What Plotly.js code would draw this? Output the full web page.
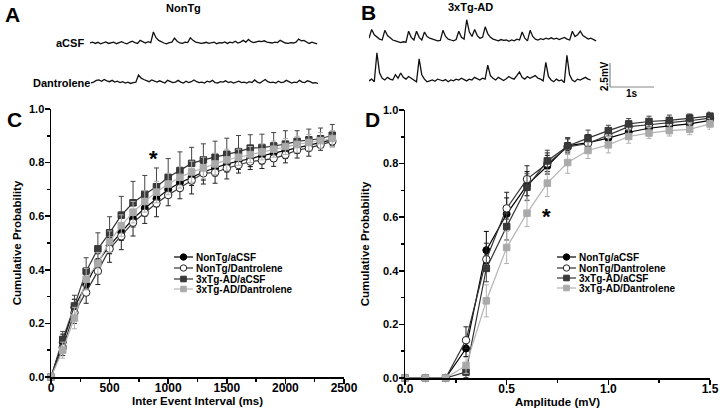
<!DOCTYPE html>
<html><head><meta charset="utf-8">
<script src="https://cdn.plot.ly/plotly-3.0.1.min.js"></script>
<style>html,body{margin:0;padding:0;background:#fff}#chart{width:720px;height:412px}</style>
</head><body><div id="chart"></div>
<script>
// ---------------- DATA ----------------
const seriesNames = ['NonTg/aCSF', 'NonTg/Dantrolene', '3xTg-AD/aCSF', '3xTg-AD/Dantrolene'];

// Panel C: inter event interval (ms) vs cumulative probability
const intervalMs = [0,100,200,300,400,500,600,700,800,900,1000,1100,1200,1300,1400,1500,1600,1700,1800,1900,2000,2100,2200,2300,2400];
const cNonTgACSF = [0,0.13,0.26,0.345,0.43,0.49,0.54,0.59,0.63,0.665,0.70,0.725,0.745,0.765,0.78,0.795,0.805,0.815,0.825,0.835,0.845,0.855,0.865,0.875,0.885];
const cNonTgDant = [0,0.11,0.24,0.315,0.395,0.478,0.525,0.576,0.613,0.648,0.679,0.705,0.733,0.76,0.763,0.779,0.791,0.804,0.808,0.816,0.829,0.847,0.854,0.866,0.879];
const c3xTgACSF = [0,0.14,0.265,0.395,0.478,0.538,0.604,0.65,0.682,0.71,0.745,0.77,0.797,0.81,0.82,0.831,0.841,0.854,0.856,0.862,0.869,0.879,0.885,0.889,0.902];
const c3xTgDant = [0,0.10,0.22,0.365,0.425,0.505,0.565,0.615,0.655,0.69,0.72,0.745,0.765,0.78,0.795,0.81,0.82,0.83,0.84,0.85,0.86,0.868,0.875,0.882,0.89];
const cNonTgACSFErrUp = [0,0.03,0.03,0.03,0.03,0.03,0.03,0.03,0.03,0.03,0.03,0.03,0.03,0.03,0.03,0.03,0.03,0.03,0.03,0.03,0.03,0.02,0.02,0.02,0.02];
const cNonTgACSFErrDn = [0,0.03,0.03,0.03,0.03,0.03,0.03,0.03,0.03,0.03,0.03,0.03,0.03,0.03,0.03,0.03,0.03,0.03,0.03,0.03,0.03,0.02,0.02,0.02,0.02];
const cNonTgDantErrUp = [0,0,0,0,0,0,0,0,0,0,0,0,0,0,0,0,0,0,0,0,0,0,0,0,0];
const cNonTgDantErrDn = [0,0.03,0.04,0.04,0.05,0.05,0.05,0.05,0.04,0.05,0.04,0.04,0.05,0.04,0.04,0.04,0.03,0.03,0.03,0.03,0.03,0.03,0.03,0.02,0.02];
const c3xTgACSFErrUp = [0,0.03,0.04,0.05,0.06,0.06,0.07,0.08,0.07,0.07,0.07,0.07,0.06,0.06,0.06,0.06,0.06,0.05,0.05,0.05,0.05,0.04,0.04,0.04,0.04];
const c3xTgACSFErrDn = [0,0,0,0,0,0,0,0,0,0,0,0,0,0,0,0,0,0,0,0,0,0,0,0,0];
const c3xTgDantErrUp = [0,0.03,0.04,0.04,0.04,0.04,0.04,0.04,0.04,0.04,0.04,0.04,0.04,0.04,0.04,0.04,0.03,0.03,0.03,0.03,0.03,0.03,0.03,0.03,0.03];
const c3xTgDantErrDn = [0,0.03,0.04,0.04,0.04,0.04,0.04,0.04,0.04,0.04,0.04,0.04,0.04,0.04,0.04,0.04,0.03,0.03,0.03,0.03,0.03,0.03,0.03,0.03,0.03];

// Panel D: amplitude (mV) vs cumulative probability
const amplitudeMv = [0,0.1,0.2,0.3,0.4,0.5,0.6,0.7,0.8,0.9,1.0,1.1,1.2,1.3,1.4,1.5];
const dNonTgACSF = [0,0,0,0.11,0.477,0.612,0.72,0.791,0.866,0.878,0.895,0.917,0.932,0.941,0.948,0.961];
const dNonTgDant = [0,0,0,0.141,0.443,0.633,0.742,0.80,0.862,0.875,0.905,0.938,0.945,0.952,0.96,0.97];
const d3xTgACSF = [0,0,0,0.022,0.409,0.565,0.712,0.81,0.866,0.895,0.923,0.948,0.957,0.961,0.97,0.977];
const d3xTgDant = [0,0,0,0.047,0.288,0.487,0.615,0.727,0.804,0.849,0.87,0.901,0.914,0.923,0.928,0.948];
const dNonTgACSFErrUp = [0,0,0,0.04,0.07,0.06,0.05,0.04,0.03,0.03,0.02,0.02,0.02,0.02,0.02,0.015];
const dNonTgACSFErrDn = [0,0,0,0.03,0.05,0.04,0.04,0.03,0.02,0.02,0.02,0.02,0.02,0.02,0.02,0.015];
const dNonTgDantErrUp = [0,0,0,0.05,0.06,0.06,0.05,0.04,0.03,0.03,0.02,0.02,0.02,0.02,0.02,0.015];
const dNonTgDantErrDn = [0,0,0,0.03,0.04,0.04,0.03,0.03,0.02,0.02,0.02,0.02,0.02,0.02,0.02,0.015];
const d3xTgACSFErrUp = [0,0,0,0.02,0.05,0.05,0.05,0.04,0.03,0.03,0.02,0.02,0.02,0.02,0.015,0.015];
const d3xTgACSFErrDn = [0,0,0,0.02,0.05,0.05,0.05,0.04,0.03,0.03,0.02,0.02,0.02,0.02,0.015,0.015];
const d3xTgDantErrUp = [0,0,0,0.03,0.06,0.06,0.05,0.05,0.04,0.03,0.03,0.025,0.02,0.02,0.02,0.02];
const d3xTgDantErrDn = [0,0,0,0.03,0.06,0.06,0.05,0.05,0.04,0.03,0.03,0.025,0.02,0.02,0.02,0.02];

// Panels A/B: example recordings (mV), sampled every 0.06 s
const sampleDt = 0.06;
const traceNonTgACSF = [0,0.1,-0.05,0.08,-0.1,0.05,0.12,-0.05,0.02,0.1,
 -0.08,0.05,0.15,0,-0.1,0.08,0.2,0.05,-0.05,0.3,
 0.1,0.0,0.15,0.05,1.25,0.6,0.3,0.1,0.0,-0.1,
 0.05,0.1,0.55,0.2,0.0,-0.05,0.1,0.05,0.6,0.3,
 0.1,0.05,-0.05,0.0,0.08,-0.05,0.05,0.1,-0.08,0.05,
 0.0,0.12,-0.05,0.1,0.02,0.2,0.0,0.1,0.3,0.1,
 0.4,0.15,0.05,0.1,0.2,0.15,0.25,0.1,0.05,0.0,
 0.1,0.05,0.3,0.15,0.0,-0.05,0.05,0.0,0.1,0.45,
 0.25,0.3,0.1,-0.05,0.1,0.0,-0.1];
const traceNonTgDant = [0,0.1,0.3,0.35,0.2,0.4,0.25,0.15,0.3,0.1,
 0.2,0.05,0.15,0.0,0.1,-0.05,0.05,0.1,0.9,0.55,
 0.4,0.3,0.15,0.35,0.2,0.1,0.25,0.1,0.0,0.3,
 0.15,0.05,0.1,0.3,0.1,0.0,0.2,0.05,0.15,0.35,
 0.15,0.05,0.1,0.0,0.2,0.1,0.3,0.05,0.0,0.15,
 0.1,0.25,0.05,0.15,0.0,0.1,0.2,0.05,0.1,0.0,
 0.15,0.05,0.35,0.1,0.0,0.2,0.4,0.15,0.05,0.1,
 0.0,0.2,0.05,0.1,0.3,0.15,0.0,0.1,0.05,0.3,
 0.1,0.05,0.25,0.15,0.0,0.05,-0.05];
const trace3xTgACSF = [0.2,1.2,0.6,0.3,0.1,0.0,1.1,0.5,0.2,0.0,
 -0.1,-0.2,-0.3,-0.2,-0.25,1.0,0.3,0.0,1.0,0.3,
 0.0,0.9,0.4,0.2,0.1,0.0,-0.1,-0.05,1.1,0.4,
 0.1,0.0,-0.1,0.05,1.0,0.3,0.1,2.3,0.9,0.4,
 1.2,0.5,0.2,0.3,1.5,0.7,0.3,0.1,0.0,-0.1,
 0.05,-0.05,0.0,-0.15,0.0,-0.1,0.1,0.0,0.9,0.2,
 -0.1,1.1,0.4,0.1,0.0,0.15,0.05,0.2,0.1,0.25,
 0.1,0.2,0.05,0.15,0.3,0.1,0.0,1.0,0.4,0.6,
 1.0,0.5,0.3,0.1,0.2,0.0,-0.1];
const trace3xTgDant = [-0.1,0.1,-0.2,3.1,0.8,0.2,0.0,0.3,0.1,0.0,
 0.6,0.2,0.8,0.3,0.1,0.4,0.2,0.0,-0.2,2.4,
 0.6,0.1,-0.2,-0.1,0.0,-0.15,0.1,0.0,-0.1,0.05,
 -0.2,0.0,-0.1,0.1,0.0,0.2,0.05,-0.1,0.1,0.0,
 0.3,0.1,0.0,0.2,0.1,1.7,0.5,0.2,0.0,0.3,
 0.1,-0.05,0.15,0.4,0.2,0.1,0.5,0.9,0.3,0.1,
 0.4,0.2,0.35,0.5,0.2,0.1,-0.1,2.0,0.4,0.0,
 -0.2,0.1,-0.1,0.0,-0.3,2.8,0.6,0.0,-0.2,0.1,
 0.0,0.2,0.3,0.1,0.0];

// ---------------- LAYOUT HELPERS ----------------
const W = 720, H = 412;
const FONT = 'Liberation Sans, Arial, Helvetica, sans-serif';
const px = x => x / W;
const py = y => 1 - y / H;
const dxr = (a, b) => [a / W, b / W];
const dyr = (top, bottom) => [1 - bottom / H, 1 - top / H];
const times = arr => arr.map((_, i) => +(i * sampleDt).toFixed(3));

const styles = [
  {line: '#000', fill: '#000', edge: '#000', symbol: 'circle', size: 7, err: '#000'},
  {line: '#333', fill: '#fff', edge: '#222', symbol: 'circle', size: 7.5, err: '#222'},
  {line: '#333', fill: '#3a3a3a', edge: '#333', symbol: 'square', size: 6.5, err: '#444'},
  {line: '#b4b4b4', fill: '#aaa', edge: '#aaa', symbol: 'square', size: 6.5, err: '#b0b0b0'}
];

function seriesTrace(i, x, y, up, dn, xa, ya) {
  const s = styles[i];
  return {
    type: 'scatter', mode: 'lines+markers', name: seriesNames[i],
    x: x, y: y, xaxis: xa, yaxis: ya, showlegend: false, cliponaxis: false,
    line: {color: s.line, width: 1.2},
    marker: {symbol: s.symbol, size: s.size, color: s.fill, line: {color: s.edge, width: 1}},
    error_y: {type: 'data', symmetric: false, array: up, arrayminus: dn,
              color: s.err, thickness: 1, width: 2.5}
  };
}

function recTrace(y, xa, ya) {
  return {type: 'scatter', mode: 'lines', x: times(y), y: y, xaxis: xa, yaxis: ya,
          showlegend: false, hoverinfo: 'skip', line: {color: '#111', width: 1.3}};
}

const data = [
  seriesTrace(0, intervalMs, cNonTgACSF, cNonTgACSFErrUp, cNonTgACSFErrDn, 'x', 'y'),
  seriesTrace(1, intervalMs, cNonTgDant, cNonTgDantErrUp, cNonTgDantErrDn, 'x', 'y'),
  seriesTrace(2, intervalMs, c3xTgACSF, c3xTgACSFErrUp, c3xTgACSFErrDn, 'x', 'y'),
  seriesTrace(3, intervalMs, c3xTgDant, c3xTgDantErrUp, c3xTgDantErrDn, 'x', 'y'),
  seriesTrace(0, amplitudeMv, dNonTgACSF, dNonTgACSFErrUp, dNonTgACSFErrDn, 'x2', 'y2'),
  seriesTrace(1, amplitudeMv, dNonTgDant, dNonTgDantErrUp, dNonTgDantErrDn, 'x2', 'y2'),
  seriesTrace(2, amplitudeMv, d3xTgACSF, d3xTgACSFErrUp, d3xTgACSFErrDn, 'x2', 'y2'),
  seriesTrace(3, amplitudeMv, d3xTgDant, d3xTgDantErrUp, d3xTgDantErrDn, 'x2', 'y2'),
  recTrace(traceNonTgACSF, 'x3', 'y3'),
  recTrace(traceNonTgDant, 'x4', 'y4'),
  recTrace(trace3xTgACSF, 'x5', 'y5'),
  recTrace(trace3xTgDant, 'x6', 'y6')
];

function mainAxis(extra) {
  return Object.assign({
    showline: true, linecolor: '#000', linewidth: 1.5,
    ticks: 'outside', ticklen: 5, tickwidth: 1.5, tickcolor: '#000',
    showgrid: false, zeroline: false, automargin: false, fixedrange: true
  }, extra);
}
const minorT = d => ({dtick: d, ticks: 'outside', ticklen: 3, tickwidth: 1.5, tickcolor: '#000'});
const tickFontX = {family: FONT, size: 12, weight: 'bold', color: '#000'};
const tickFontY = {family: FONT, size: 11, weight: 'bold', color: '#000'};
const titleFont = {family: FONT, size: 11.5, weight: 'bold', color: '#000'};

function hiddenAxis(extra) {
  return Object.assign({visible: false, showgrid: false, zeroline: false, fixedrange: true}, extra);
}

const layout = {
  width: W, height: H, margin: {l: 0, r: 0, t: 0, b: 0},
  paper_bgcolor: '#fff', plot_bgcolor: 'rgba(0,0,0,0)', showlegend: false,
  font: {family: FONT, color: '#000'},
  xaxis: mainAxis({domain: dxr(51, 344), range: [0, 2500], dtick: 500, tick0: 0, anchor: 'y',
    tickfont: tickFontX, minor: minorT(250), ticklabelstandoff: -6,
    title: {text: 'Inter Event Interval (ms)', font: titleFont, standoff: 1}}),
  yaxis: mainAxis({domain: dyr(109, 377), range: [0, 1], dtick: 0.2, tick0: 0, tickformat: '.1f', anchor: 'x',
    tickfont: tickFontY, minor: minorT(0.1), ticklabelstandoff: -2,
    title: {text: 'Cumulative Probability', font: titleFont, standoff: 5}}),
  xaxis2: mainAxis({domain: dxr(405, 710), range: [0, 1.5], dtick: 0.5, tick0: 0, tickformat: '.1f', anchor: 'y2',
    tickfont: tickFontX, minor: minorT(0.25), ticklabelstandoff: -6,
    title: {text: 'Amplitude (mV)', font: titleFont, standoff: 2}}),
  yaxis2: mainAxis({domain: dyr(110, 378), range: [0, 1], dtick: 0.2, tick0: 0, tickformat: '.1f', anchor: 'x2',
    tickfont: tickFontY, minor: minorT(0.1), ticklabelstandoff: -2,
    title: {text: 'Cumulative Probability', font: titleFont, standoff: 11}}),
  xaxis3: hiddenAxis({domain: dxr(90, 318), range: [0, 5.18], anchor: 'y3'}),
  yaxis3: hiddenAxis({domain: dyr(25, 55), range: [-1.364, 2.045], anchor: 'x3'}),
  xaxis4: hiddenAxis({domain: dxr(91, 318), range: [0, 5.16], anchor: 'y4'}),
  yaxis4: hiddenAxis({domain: dyr(65, 95), range: [-1.364, 2.045], anchor: 'x4'}),
  xaxis5: hiddenAxis({domain: dxr(369, 597), range: [0, 5.18], anchor: 'y5'}),
  yaxis5: hiddenAxis({domain: dyr(10, 50), range: [-1.136, 3.409], anchor: 'x5'}),
  xaxis6: hiddenAxis({domain: dxr(369, 592), range: [0, 5.07], anchor: 'y6'}),
  yaxis6: hiddenAxis({domain: dyr(45, 95), range: [-1.705, 3.977], anchor: 'x6'}),
  annotations: [],
  shapes: []
};

function txt(text, x, y, size, opts) {
  layout.annotations.push(Object.assign({
    text: text, x: px(x), y: py(y), xref: 'paper', yref: 'paper', showarrow: false,
    xanchor: 'center', yanchor: 'middle',
    font: {family: FONT, size: size, weight: 'bold', color: '#000'}
  }, opts || {}));
}

// panel letters and headings
txt('A', 13, 15, 21);
txt('B', 368, 13, 21);
txt('C', 14, 120, 21);
txt('D', 372, 120, 21);
txt('NonTg', 183, 8, 11);
txt('3xTg-AD', 470, 7, 11);
txt('aCSF', 86, 43, 11, {xanchor: 'right'});
txt('Dantrolene', 92, 83, 11, {xanchor: 'right'});
// scale bar
layout.shapes.push({type: 'line', xref: 'paper', yref: 'paper', x0: px(610), x1: px(610), y0: py(63), y1: py(87), line: {color: '#888', width: 1.2}});
layout.shapes.push({type: 'line', xref: 'paper', yref: 'paper', x0: px(610), x1: px(654), y0: py(87), y1: py(87), line: {color: '#888', width: 1.2}});
txt('2.5mV', 604, 76, 10, {textangle: -90});
txt('1s', 632, 93, 10);
// significance markers
txt('*', 153, 159, 22);
txt('*', 546, 216, 22);

// manual compact legends
function legend(lineX0, lineX1, textX, rows) {
  rows.forEach((ry, i) => {
    const s = styles[i];
    layout.shapes.push({type: 'line', xref: 'paper', yref: 'paper', x0: px(lineX0), x1: px(lineX1), y0: py(ry), y1: py(ry), line: {color: s.line, width: 1.2}});
    const mx = (lineX0 + lineX1) / 2, r = s.symbol === 'circle' ? 3.2 : 2.8;
    layout.shapes.push({type: s.symbol === 'circle' ? 'circle' : 'rect', xref: 'paper', yref: 'paper',
      x0: px(mx - r), x1: px(mx + r), y0: py(ry + r), y1: py(ry - r),
      fillcolor: s.fill, line: {color: s.edge, width: 1}});
    txt(seriesNames[i], textX, ry, 10, {xanchor: 'left'});
  });
}
legend(174, 193, 194, [257, 268, 279, 289]);
legend(557, 576, 577, [257, 268, 278, 288]);

Plotly.newPlot('chart', data, layout, {staticPlot: true, displayModeBar: false});
</script>
</body></html>
